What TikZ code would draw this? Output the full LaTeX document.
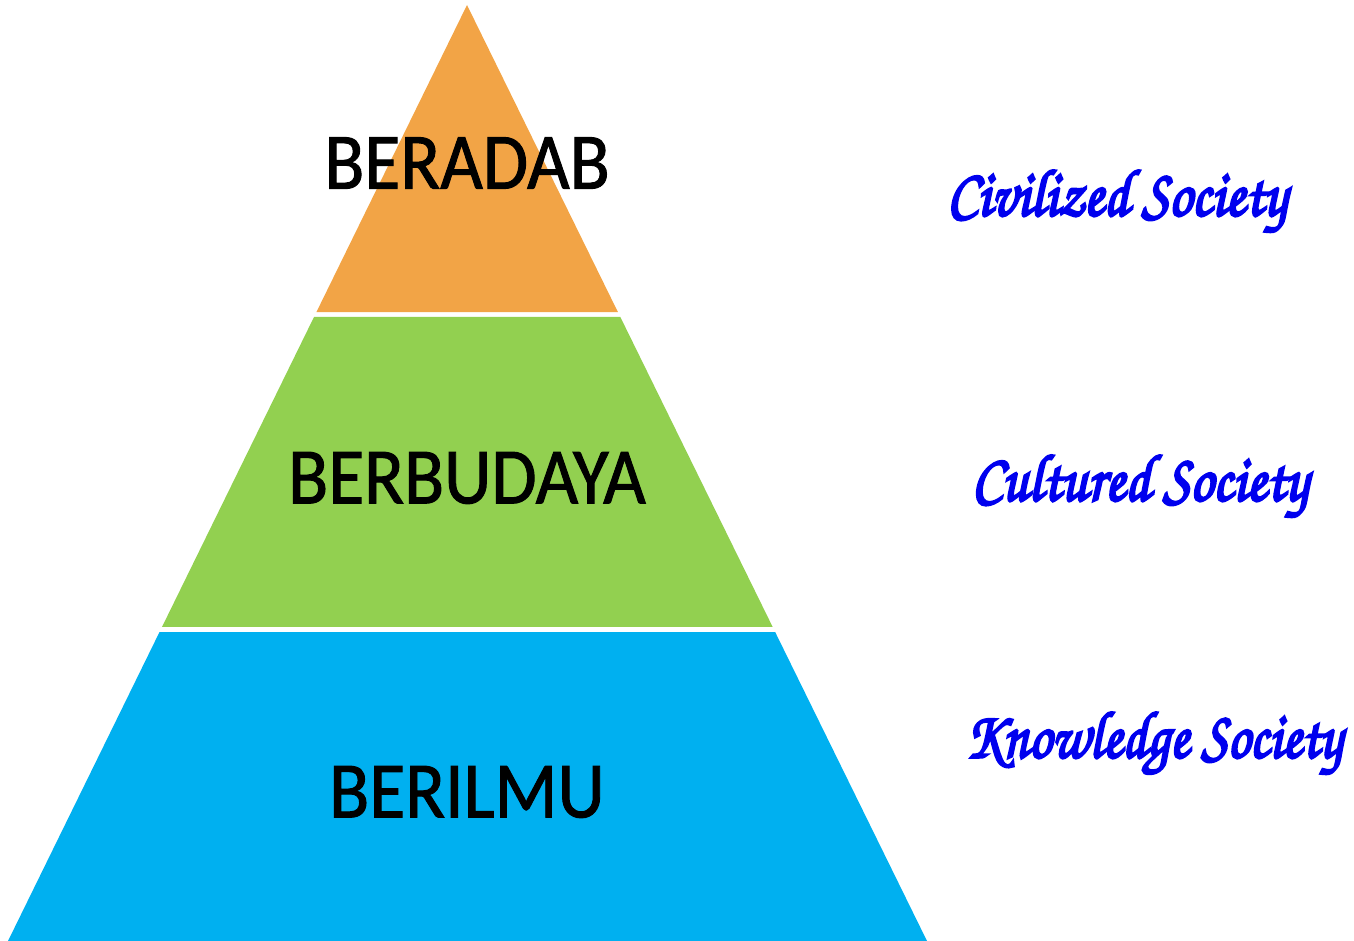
\documentclass[tikz,border=0pt]{standalone}
\usepackage{fontspec}
\setmainfont{Carlito}
\usetikzlibrary{calc}
\definecolor{adab}{HTML}{F2A446}
\definecolor{budaya}{HTML}{92D050}
\definecolor{ilmu}{HTML}{00B0F0}
\definecolor{society}{HTML}{0000EE}
% heavier strokes for the texts
\newcommand{\thicktext}[2]{\special{pdf:literal direct 2 Tr #1 w}#2\special{pdf:literal direct 0 Tr}}
\begin{document}
\begin{tikzpicture}
  [x=1pt,y=-1pt,every node/.style={inner sep=0pt}]
  \tikzstyle{level} = [font=\fontsize{80}{80}\selectfont,xscale=.92,text=black]
  \tikzstyle{motto} = [font=\fontfamily{pzc}\fontencoding{T1}\fontsize{58}{58}\selectfont,yscale=1.15,text=society]
  \useasboundingbox (0,0) rectangle (1354,941);
  \coordinate (apex) at (467,5);
  \coordinate (bl) at (8,941);
  \coordinate (br) at (927,941);

  \foreach \lo/\hi/\col in {0/.328/adab,.3333/.6645/budaya,.6699/1/ilmu}
    \fill[\col] ($(apex)!\lo!(bl)$) -- ($(apex)!\lo!(br)$) -- ($(apex)!\hi!(br)$) -- ($(apex)!\hi!(bl)$) -- cycle;

  \node[level] (beradab) at (467,163) {\thicktext{1}{BERADAB}};
  \node[level] (berbudaya) at (467,478) {\thicktext{1}{BERBUDAYA}};
  \node[level] (berilmu) at (467,792) {\thicktext{1}{BERILMU}};

  \node[motto] (civilized) at (1117,202) {\thicktext{2.2}{Civilized Society}};
  \node[motto] (cultured) at (1140,487) {\thicktext{2.2}{Cultured Society}};
  \node[motto,xscale=.97] (knowledge) at (1154,744) {\thicktext{2.2}{Knowledge Society}};
\end{tikzpicture}
\end{document}
